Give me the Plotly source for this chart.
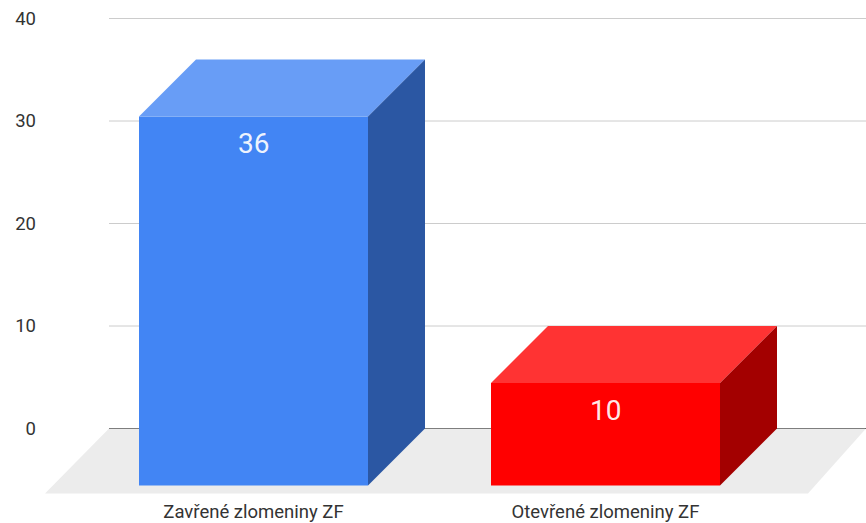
import plotly.graph_objects as go

categories = ["Zavřené zlomeniny ZF", "Otevřené zlomeniny ZF"]
values = [36, 10]
front_colors = ["#4285f4", "#ff0000"]
top_colors = ["#689df6", "#ff3333"]
side_colors = ["#2b57a3", "#a30000"]
y_ticks = [0, 10, 20, 30, 40]

W, H = 866, 523
PLOT_BOTTOM = 494
PX_PER_UNIT_Y = 10.25
ZERO_PY = 428.5
CAT0_PX, CAT_STEP = 253.5, 352.0
DEPTH_PX = 57
FLOOR_DEPTH_PX = 65

depth_y = DEPTH_PX / PX_PER_UNIT_Y
depth_x = DEPTH_PX / CAT_STEP
floor_y = FLOOR_DEPTH_PX / PX_PER_UNIT_Y
bar_w = 229 / CAT_STEP
xs = list(range(len(values)))
x_min = -CAT0_PX / CAT_STEP
x_max = (W - CAT0_PX) / CAT_STEP
y_max = ZERO_PY / PX_PER_UNIT_Y
y_min = (ZERO_PY - PLOT_BOTTOM) / PX_PER_UNIT_Y


def px_x(p):
    return (p - CAT0_PX) / CAT_STEP


fig = go.Figure()
fig.add_trace(go.Bar(
    x=xs, y=values, base=[-depth_y] * len(values), width=bar_w,
    marker=dict(color=front_colors, line=dict(width=0)), hoverinfo="skip",
))
for x, v, tc, sc in zip(xs, values, top_colors, side_colors):
    l, r = x - bar_w / 2, x + bar_w / 2
    front_top = v - depth_y
    fig.add_trace(go.Scatter(
        x=[l, r, r + depth_x, l + depth_x, l],
        y=[front_top, front_top, v, v, front_top],
        mode="lines", fill="toself", fillcolor=tc, line=dict(width=0),
        hoverinfo="skip",
    ))
    fig.add_trace(go.Scatter(
        x=[r, r + depth_x, r + depth_x, r, r],
        y=[front_top, v, 0, -depth_y, front_top],
        mode="lines", fill="toself", fillcolor=sc, line=dict(width=0),
        hoverinfo="skip",
    ))

shapes = [dict(
    type="path", layer="below", xref="x", yref="y",
    path=f"M {px_x(109)} 0 L {px_x(866)} 0 L {px_x(808)} {-floor_y} L {px_x(45)} {-floor_y} Z",
    fillcolor="#ececec", line=dict(width=0),
)]
for t in y_ticks:
    shapes.append(dict(
        type="line", layer="below", xref="paper", yref="y",
        x0=109 / W, x1=1, y0=t, y1=t,
        line=dict(color="#111111" if t == 0 else "#cccccc", width=1),
    ))

annotations = [dict(
    x=x, y=v - depth_y, xref="x", yref="y", text=str(v), showarrow=False,
    yshift=-27, xanchor="center", yanchor="middle",
    font=dict(family="Roboto", size=28, color="rgba(255,255,255,0.92)"),
) for x, v in zip(xs, values)]

fig.update_layout(
    width=W, height=H, autosize=False, showlegend=False,
    margin=dict(l=0, r=0, t=0, b=H - PLOT_BOTTOM, autoexpand=False),
    paper_bgcolor="white", plot_bgcolor="rgba(0,0,0,0)",
    shapes=shapes, annotations=annotations,
    font=dict(family="Roboto", color="#222222"),
    xaxis=dict(
        range=[x_min, x_max], tickvals=xs, ticktext=categories,
        showgrid=False, zeroline=False, showline=False, automargin=False,
        ticks="outside", ticklen=1, tickcolor="rgba(0,0,0,0)",
        tickfont=dict(family="Roboto", size=18.5, color="#333333"),
        fixedrange=True,
    ),
    yaxis=dict(
        range=[y_min, y_max], tickvals=y_ticks, automargin=False,
        anchor="free", position=36 / W,
        showgrid=False, zeroline=False, showline=False, ticks="",
        tickfont=dict(family="Roboto", size=18.5, color="#333333"),
        fixedrange=True,
    ),
)
fig.write_html(
    "out.html",
    config=dict(displayModeBar=False),
    post_script="document.body.style.margin='0';document.documentElement.style.overflow='hidden';",
)
